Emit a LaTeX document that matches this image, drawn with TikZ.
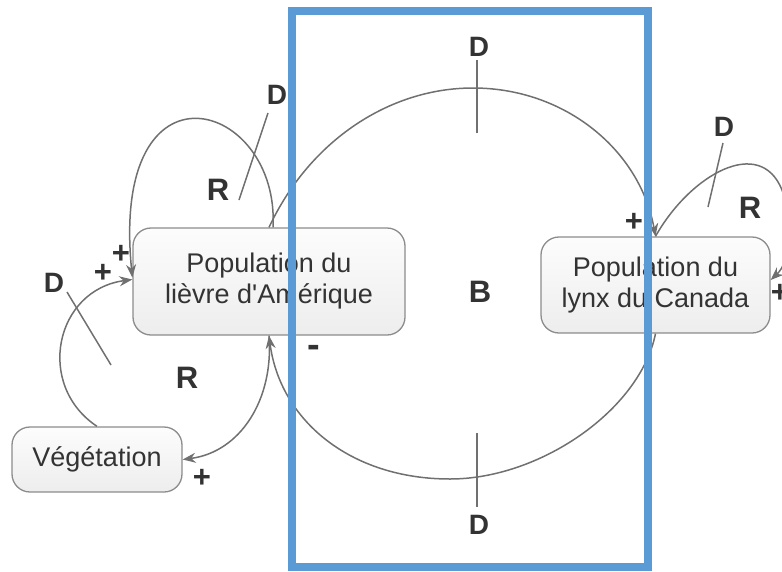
\documentclass[tikz,border=0pt]{standalone}
\usepackage{fontspec}
\setmainfont{Liberation Sans}[Ligatures=TeXOff]
\usetikzlibrary{arrows.meta}
\definecolor{linegray}{HTML}{707070}
\definecolor{boxline}{HTML}{8C8C8C}
\definecolor{txt}{HTML}{333333}
\definecolor{frameblue}{HTML}{5B9BD5}

\begin{document}
\begin{tikzpicture}[x=1pt,y=-1pt,
  box/.style={draw=boxline, line width=1.3pt, rounded corners=18pt,
    top color=gray!2, bottom color=gray!14, align=center, text=txt,
    font=\fontsize{27}{31}\selectfont, inner sep=0pt},
  link/.style={draw=linegray, line width=1.5pt, -{Stealth[length=13pt,width=10pt]}},
  tick/.style={draw=linegray, line width=1.5pt},
  delaytag/.style={text=txt, font=\fontsize{28}{30}\selectfont\bfseries, inner sep=0pt},
  looptag/.style={text=txt, font=\fontsize{31}{33}\selectfont\bfseries, inner sep=0pt},
  signtag/.style={text=txt, font=\fontsize{31}{33}\selectfont\bfseries, inner sep=0pt},
]
\useasboundingbox (0,0) rectangle (782,571);

% stocks
\node[box, minimum width=272pt, minimum height=107pt] (hare) at (269,281.5) {Population du\\lièvre d'Amérique};
\node[box, minimum width=229pt, minimum height=96pt] (lynx) at (655.5,285) {Population du\\lynx du Canada};
\node[box, minimum width=170pt, minimum height=65pt] (veg) at (97,459.5) {Végétation};

% balancing loop between hares and lynxes
\draw[link] (hare.north) .. controls (310,140) and (390,88) .. (473,88)
  .. controls (565,88) and (640,150) .. (lynx.north);
\draw[link] (lynx.south) .. controls (640,410) and (540,479) .. (450,479)
  .. controls (350,479) and (280,420) .. (hare.south);

% hare reinforcing loop
\draw[link] ([xshift=4pt]hare.north) .. controls (280,100) and (110,50) .. ([yshift=4pt]hare.west);

% vegetation loop
\draw[link] (veg.north) .. controls (35,385) and (55,290) .. ([yshift=2pt]hare.west);
\draw[link] (hare.south) .. controls (274,400) and (240,452) .. (veg.east);

% lynx reinforcing loop
\draw[link] (lynx.north) .. controls (690,175) and (760,135) .. (782,190)
  .. controls (795,225) and (790,262) .. ([yshift=5pt]lynx.east);

% delay marks
\draw[tick] (268,113) -- (239,200);
\draw[tick] (477,60) -- (477,133);
\draw[tick] (477,433) -- (477,507);
\draw[tick] (67,292) -- (111,365);
\draw[tick] (723,143) -- (708,207);

% delay labels
\node[delaytag] (d1) at (277,95) {D};
\node[delaytag] (d2) at (479,47) {D};
\node[delaytag] (d3) at (479,525) {D};
\node[delaytag] (d4) at (54,283) {D};
\node[delaytag] (d5) at (724,127) {D};

% loop labels
\node[looptag] (r1) at (218,190) {R};
\node[looptag] (r2) at (187,378) {R};
\node[looptag] (r3) at (750,208) {R};
\node[looptag] (b1) at (480,292) {B};

% polarity labels
\node[signtag] (s1) at (121,254) {+};
\node[signtag] (s2) at (103,273) {+};
\node[signtag] (s3) at (202,478) {+};
\node[signtag] (s4) at (634,222) {+};
\node[signtag] (s5) at (780,293) {+};
\node[text=txt, font=\fontsize{38}{40}\selectfont\bfseries, inner sep=0pt] (s6) at (314,351) {-};

% highlighted region
\draw[frameblue, line width=8pt] (292,11) rectangle (648,567);
\end{tikzpicture}
\end{document}
